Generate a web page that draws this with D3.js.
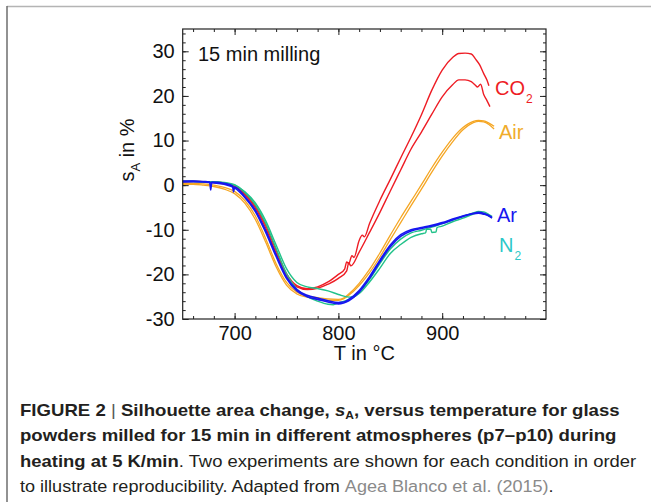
<!DOCTYPE html>
<html>
<head>
<meta charset="utf-8">
<script src="https://cdn.jsdelivr.net/npm/d3@7"></script>
<style>
  body { margin: 0; background: #fff; }
  svg { display: block; }
</style>
</head>
<body>
<svg id="svg" width="651" height="502"></svg>
<script>
// temperature (°C), s_A (%), two runs per atmosphere
const co2RunA = [[650,0.9],[660,0.9],[670,0.8],[680,0.7],[690,0.5],[700,-0.2],[710,-1.9],[720,-4.7],[730,-9.0],[740,-14.6],[750,-19.8],[760,-22.5],[770,-23.2],[780,-22.8],[790,-21.7],[800,-20.0],[806,-18.8],[808,-17.2],[810,-17.6],[813,-15.8],[815,-16.2],[820,-12.4],[823,-11.2],[825,-11.6],[830,-8.6],[840,-3.4],[850,1.3],[860,6.1],[870,10.8],[880,15.8],[890,21.3],[900,25.8],[910,28.6],[916,29.5],[922,29.6],[928,29.4],[932,28.3],[936,27.0],[940,25.0],[943,23.6],[945,22.3]];
const co2RunB = [[650,0.7],[660,0.8],[670,0.7],[680,0.6],[690,0.3],[700,-0.4],[710,-2.2],[720,-5.1],[730,-9.6],[740,-15.2],[750,-20.3],[760,-22.8],[770,-23.4],[780,-23.1],[790,-22.2],[800,-20.9],[808,-19.2],[810,-17.4],[812,-18.1],[820,-15.0],[830,-10.6],[840,-6.1],[850,-1.3],[860,3.4],[870,8.1],[880,11.9],[890,15.9],[900,19.8],[910,22.5],[916,23.6],[922,23.6],[928,23.2],[932,22.4],[934,22.0],[937,22.6],[940,20.3],[943,19.0],[946,17.6]];
const airRunA = [[650,0.4],[660,0.4],[670,0.3],[680,0.0],[690,-0.5],[700,-1.4],[710,-3.5],[720,-6.9],[730,-12.0],[740,-17.6],[750,-21.8],[760,-24.0],[770,-24.9],[780,-25.2],[790,-25.5],[800,-25.6],[805,-25.3],[810,-24.4],[820,-22.0],[830,-18.9],[840,-15.2],[850,-11.2],[860,-7.3],[870,-3.6],[880,0.1],[890,3.9],[900,7.4],[910,10.5],[920,12.9],[930,14.3],[935,14.5],[940,14.4],[945,13.9],[950,13.2]];
const airRunB = [[650,0.2],[660,0.2],[670,0.0],[680,-0.3],[690,-0.9],[700,-1.9],[710,-4.1],[720,-7.7],[730,-12.8],[740,-18.3],[750,-22.4],[760,-24.4],[770,-25.1],[780,-25.5],[790,-25.8],[800,-25.8],[805,-25.5],[810,-24.7],[820,-22.5],[830,-19.6],[840,-16.1],[850,-12.2],[860,-8.4],[870,-4.6],[880,-0.9],[890,2.9],[900,6.5],[910,9.7],[920,12.4],[930,14.0],[935,14.3],[940,14.2],[945,13.6],[950,12.6]];
const n2RunA = [[650,0.8],[660,0.8],[670,0.7],[680,0.7],[690,0.5],[700,0.0],[710,-1.5],[720,-4.0],[730,-8.0],[740,-13.4],[750,-18.7],[760,-21.8],[770,-22.8],[780,-23.2],[790,-23.7],[800,-24.5],[810,-25.1],[815,-25.0],[820,-24.3],[830,-21.7],[840,-18.6],[850,-15.3],[860,-13.3],[870,-11.7],[880,-10.9],[884,-10.7],[885,-9.9],[889,-9.9],[890,-10.6],[894,-10.5],[895,-9.5],[900,-9.2],[910,-8.2],[920,-7.4],[930,-6.5],[935,-6.2],[940,-6.4],[945,-6.9],[948,-7.3]];
const n2RunB = [[650,0.9],[660,0.9],[670,0.8],[680,0.8],[690,0.6],[700,0.1],[710,-1.7],[720,-4.4],[730,-8.6],[740,-14.2],[750,-19.8],[760,-23.3],[770,-25.0],[780,-26.0],[790,-26.7],[795,-26.8],[800,-26.4],[810,-25.6],[820,-23.9],[830,-21.1],[840,-17.6],[850,-14.3],[860,-12.1],[870,-10.7],[880,-10.1],[890,-9.4],[900,-8.6],[910,-7.8],[920,-7.0],[930,-6.2],[935,-5.9],[940,-6.0],[945,-6.6],[948,-7.0]];
const arRunA = [[650,0.9],[660,0.9],[670,0.8],[676,0.7],[677,-1.1],[678,0.7],[690,0.4],[698,-0.2],[699,-1.5],[700,-0.4],[710,-2.6],[720,-5.6],[730,-10.2],[740,-15.6],[750,-20.6],[760,-23.4],[770,-24.7],[780,-25.3],[790,-25.9],[800,-26.3],[805,-26.2],[810,-25.6],[820,-23.6],[830,-20.5],[840,-16.8],[850,-13.4],[860,-11.1],[870,-10.0],[880,-9.5],[890,-9.0],[900,-8.4],[910,-7.6],[920,-6.9],[930,-6.3],[935,-6.1],[940,-6.3],[945,-6.8],[948,-7.2]];
const arRunB = [[650,0.7],[660,0.8],[670,0.7],[680,0.5],[690,0.2],[700,-0.6],[710,-2.8],[720,-5.9],[730,-10.6],[740,-16.0],[750,-20.9],[760,-23.7],[770,-25.0],[780,-25.6],[790,-26.2],[800,-26.6],[805,-26.4],[810,-25.9],[820,-24.0],[830,-20.9],[840,-17.2],[850,-13.8],[860,-11.5],[870,-10.3],[880,-9.7],[890,-9.2],[900,-8.6],[910,-7.8],[920,-7.0],[930,-6.4],[935,-6.3],[940,-6.5],[945,-6.9],[948,-7.4]];

const xTickLabels = [700, 800, 900];
const yTickLabels = [-30, -20, -10, 0, 10, 20, 30];
const xMinorTicks = d3.range(660, 1000, 20);
const yMinorTicks = d3.range(-30, 36, 2);

//series, drawn in this order so blue sits on top
const series = [
    {name: "Air", runs: [airRunA, airRunB], color: "#f5a623", width: 1.3},
    {name: "CO2", runs: [co2RunA, co2RunB], color: "#ee1c24", width: 1.4},
    {name: "N2", runs: [n2RunA, n2RunB], color: "#22c28a", width: 1.4},
    {name: "Ar", runs: [arRunA, arRunB], color: "#1616f0", width: 1.6}
];

const FONT = "'Liberation Sans', Arial, Helvetica, sans-serif";
const plot = {left: 182.7, right: 546, top: 29, bottom: 319};

const svg = d3.select("#svg");
svg.append("rect").attr("width", 651).attr("height", 502).attr("fill", "#fff");

//figure frame (top + left edge only)
svg.append("line").attr("x1", 7).attr("x2", 651).attr("y1", 6.5).attr("y2", 6.5)
        .attr("stroke", "#b4b4b4").attr("stroke-width", 1.5);
svg.append("line").attr("x1", 7).attr("x2", 7).attr("y1", 6).attr("y2", 502)
        .attr("stroke", "#6e6e6e").attr("stroke-width", 1.5);

const x = d3.scaleLinear().domain([650, 1000]).range([plot.left, plot.right]);
const y = d3.scaleLinear().domain([-30, 35]).range([plot.bottom, plot.top]);

//curves
const line = d3.line()
        .x(d => x(d[0]))
        .y(d => y(d[1]))
        .curve(d3.curveMonotoneX);

const g = svg.append("g");
series.forEach(s => {
    g.selectAll(null)
            .data(s.runs)
            .enter()
            .append("path")
            .attr("d", line)
            .attr("fill", "none")
            .attr("stroke", s.color)
            .attr("stroke-width", s.width)
            .attr("stroke-linejoin", "round");
});

//axes: ticks on all four sides pointing in
function styleAxis(sel) {
    sel.select(".domain").remove();
    sel.selectAll(".tick line").attr("stroke", "#222").attr("stroke-width", 1);
    sel.selectAll("text").attr("font-family", FONT).attr("font-size", 20).attr("fill", "#111");
}
const hideLabels = () => "";

svg.append("g").attr("transform", `translate(0,${plot.bottom})`)
        .call(d3.axisBottom(x).tickValues(xMinorTicks).tickSize(-3).tickFormat(hideLabels)).call(styleAxis);
svg.append("g").attr("transform", `translate(0,${plot.bottom})`)
        .call(d3.axisBottom(x).tickValues(xTickLabels).tickSize(-6).tickPadding(7).tickFormat(d3.format("d"))).call(styleAxis);
svg.append("g").attr("transform", `translate(0,${plot.top})`)
        .call(d3.axisTop(x).tickValues(xMinorTicks).tickSize(-3).tickFormat(hideLabels)).call(styleAxis);
svg.append("g").attr("transform", `translate(0,${plot.top})`)
        .call(d3.axisTop(x).tickValues(xTickLabels).tickSize(-6).tickFormat(hideLabels)).call(styleAxis);

svg.append("g").attr("transform", `translate(${plot.left},0)`)
        .call(d3.axisLeft(y).tickValues(yMinorTicks).tickSize(-3).tickFormat(hideLabels)).call(styleAxis);
svg.append("g").attr("transform", `translate(${plot.left},0)`)
        .call(d3.axisLeft(y).tickValues(yTickLabels).tickSize(-6).tickPadding(8).tickFormat(d => d < 0 ? "-" + Math.abs(d) : d)).call(styleAxis);
svg.append("g").attr("transform", `translate(${plot.right},0)`)
        .call(d3.axisRight(y).tickValues(yMinorTicks).tickSize(-3).tickFormat(hideLabels)).call(styleAxis);
svg.append("g").attr("transform", `translate(${plot.right},0)`)
        .call(d3.axisRight(y).tickValues(yTickLabels).tickSize(-6).tickFormat(hideLabels)).call(styleAxis);

//plot frame
svg.append("rect")
        .attr("x", plot.left).attr("y", plot.top)
        .attr("width", plot.right - plot.left).attr("height", plot.bottom - plot.top)
        .attr("fill", "none").attr("stroke", "#222").attr("stroke-width", 1.2);

//axis titles
svg.append("text")
        .attr("x", (plot.left + plot.right) / 2).attr("y", 360)
        .attr("text-anchor", "middle")
        .attr("font-family", FONT).attr("font-size", 20).attr("fill", "#111")
        .text("T in °C");

const yTitle = svg.append("text")
        .attr("transform", "translate(134,150) rotate(-90)")
        .attr("text-anchor", "middle")
        .attr("font-family", FONT).attr("font-size", 20).attr("fill", "#111");
yTitle.append("tspan").text("s");
yTitle.append("tspan").attr("font-size", 13).attr("dy", 6).text("A");
yTitle.append("tspan").attr("dy", -6).text(" in %");

svg.append("text")
        .attr("x", 198).attr("y", 61)
        .attr("font-family", FONT).attr("font-size", 20).attr("fill", "#111")
        .text("15 min milling");

//series labels at the right end of the curves
function seriesLabel(px, py, main, sub, color) {
    const t = svg.append("text")
            .attr("x", px).attr("y", py)
            .attr("font-family", FONT).attr("font-size", 20).attr("fill", color);
    t.append("tspan").text(main);
    if (sub) {
        t.append("tspan").attr("font-size", 12).attr("dy", 8).attr("dx", 1).text(sub);
    }
}
seriesLabel(495, 95, "CO", "2", "#ee1c24");
seriesLabel(499, 139, "Air", null, "#f0ac2c");
seriesLabel(497, 222, "Ar", null, "#1616f0");
seriesLabel(499, 252, "N", "2", "#2cc8c8");

//caption
const CAP_FONT = "'Liberation Sans Narrow', 'Arial Narrow', 'Liberation Sans', Arial, sans-serif";
const captionLines = [
    {y: 415.5, width: 600, parts: [
        {t: "FIGURE 2", w: "bold"},
        {t: " | ", w: "normal", c: "#555"},
        {t: "Silhouette area change, ", w: "bold"},
        {t: "s", w: "bold", i: true},
        {t: "A", w: "bold", sub: true},
        {t: ", versus temperature for glass", w: "bold"}
    ]},
    {y: 441, width: 597, parts: [
        {t: "powders milled for 15 min in different atmospheres (p7\u2013p10) during", w: "bold"}
    ]},
    {y: 466.5, width: 617, parts: [
        {t: "heating at 5 K/min", w: "bold"},
        {t: ". Two experiments are shown for each condition in order", w: "normal"}
    ]},
    {y: 491.5, width: 533, parts: [
        {t: "to illustrate reproducibility. Adapted from ", w: "normal"},
        {t: "Agea Blanco et al. (2015)", w: "normal", c: "#8a8a8a"},
        {t: ".", w: "normal"}
    ]}
];

captionLines.forEach(l => {
    const t = svg.append("text")
            .attr("transform", `translate(20,${l.y})`)
            .attr("font-family", CAP_FONT).attr("font-size", 17).attr("fill", "#231f20");
    let shifted = false;
    l.parts.forEach(p => {
        const sp = t.append("tspan")
                .attr("font-weight", p.w)
                .attr("fill", p.c || "#231f20")
                .text(p.t);
        if (p.i) sp.attr("font-style", "italic");
        if (p.sub) {
            sp.attr("font-size", 11).attr("dy", 3);
            shifted = true;
        } else if (shifted) {
            sp.attr("dy", -3);
            shifted = false;
        }
    });
    //stretch/squeeze the line to the width it has in the figure
    const w = t.node().getComputedTextLength();
    t.attr("transform", `translate(20,${l.y}) scale(${l.width / w},1)`);
});
</script>
</body>
</html>
